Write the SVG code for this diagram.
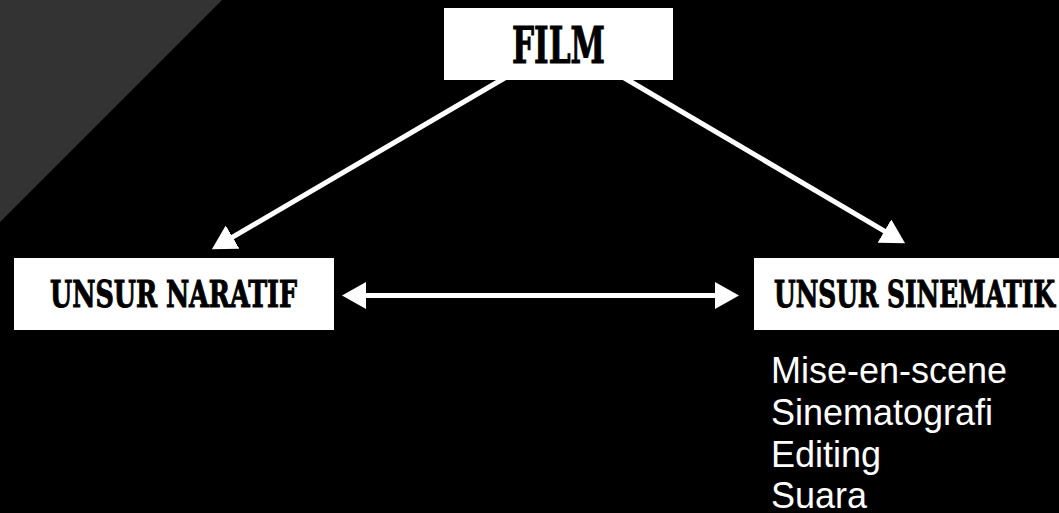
<svg xmlns="http://www.w3.org/2000/svg" width="1059" height="513" viewBox="0 0 1059 513">
  <style>
    .box { fill: #ffffff; }
    .title { font-family: "DejaVu Serif Condensed", "DejaVu Serif", serif; font-weight: bold; fill: #000000; stroke: #000000; stroke-width: 1; }
    .conn { stroke: #ffffff; stroke-width: 5; fill: none; }
    .item { font-family: "Liberation Sans", Arial, sans-serif; font-size: 36px; fill: #ffffff; }
  </style>
  <defs>
    <marker id="ah" markerWidth="24" markerHeight="27" refX="3" refY="13.5" orient="auto-start-reverse" markerUnits="userSpaceOnUse">
      <path d="M0,0 L24,13.5 L0,27 Z" fill="#ffffff"/>
    </marker>
  </defs>
  <rect x="0" y="0" width="1059" height="513" fill="#000000"/>
  <polygon points="0,0 222,0 0,222" fill="#333333"/>

  <g id="connectors">
    <line class="conn" x1="508" y1="76" x2="230" y2="238.6" marker-end="url(#ah)"/>
    <line class="conn" x1="621" y1="76" x2="887" y2="232.6" marker-end="url(#ah)"/>
    <line class="conn" x1="363" y1="295.5" x2="718" y2="295.5" stroke-width="4.5" marker-start="url(#ah)" marker-end="url(#ah)"/>
  </g>

  <g id="film">
    <rect class="box" x="444" y="8" width="229" height="72"/>
    <text class="title" x="512" y="63" font-size="50" textLength="93" lengthAdjust="spacingAndGlyphs">FILM</text>
  </g>

  <g id="unsur-naratif">
    <rect class="box" x="14" y="258" width="320" height="72"/>
    <text class="title" x="50" y="307" font-size="38" textLength="247" lengthAdjust="spacingAndGlyphs">UNSUR NARATIF</text>
  </g>

  <g id="unsur-sinematik">
    <rect class="box" x="754" y="258" width="320" height="72"/>
    <text class="title" x="774" y="307" font-size="38" textLength="281" lengthAdjust="spacingAndGlyphs">UNSUR SINEMATIK</text>
  </g>

  <g id="sinematik-list">
    <text class="item" x="771" y="383">Mise-en-scene</text>
    <text class="item" x="771" y="425">Sinematografi</text>
    <text class="item" x="771" y="467">Editing</text>
    <text class="item" x="771" y="508">Suara</text>
  </g>
</svg>
